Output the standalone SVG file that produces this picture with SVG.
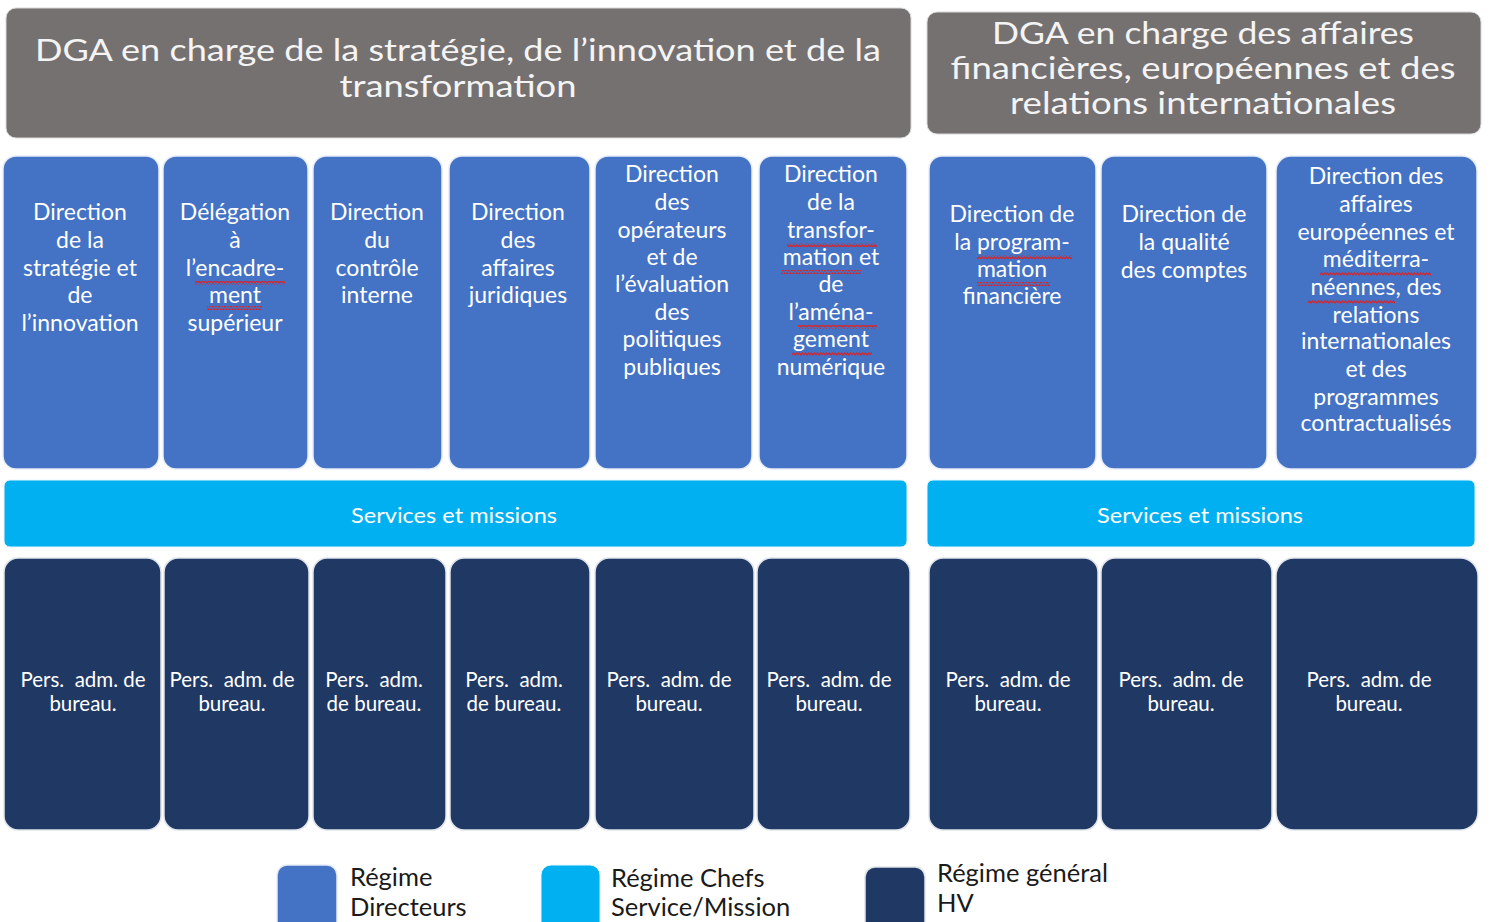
<svg xmlns="http://www.w3.org/2000/svg" width="1498" height="922" viewBox="0 0 1498 922">
<style>
.hdr{fill:#767171;stroke:#d9d9d9;stroke-width:1}
.dir{fill:#4472C4;stroke:#e6ecf7;stroke-width:1.5}
.svc{fill:#00B0F0;stroke:#e6f7fd;stroke-width:1}
.gen{fill:#203864;stroke:#dfe3ea;stroke-width:1.5}
text{font-family:Lato,"Open Sans","DejaVu Sans",sans-serif;text-anchor:middle;fill:#ffffff}
.ht{font-size:30px;fill:#f4f4f4}
.dt{font-size:23px}
.st{font-size:22px}
.pt{font-size:20.5px}
.lg{font-size:25.5px;fill:#1a1a1a;text-anchor:start}
.sq{fill:url(#wave)}
</style>
<defs>
<pattern id="wave" x="0" y="0" width="6" height="4" patternUnits="userSpaceOnUse">
<path d="M0,3 L1.5,1 L3,3 L4.5,1 L6,3" fill="none" stroke="#e02020" stroke-width="1.1"/>
</pattern>
</defs>

<g id="header-left">
<rect class="hdr" x="6" y="8" width="905" height="130" rx="10"/>
<text class="ht" x="458" y="61" textLength="846" lengthAdjust="spacingAndGlyphs">DGA en charge de la stratégie, de l’innovation et de la</text>
<text class="ht" x="458" y="97" textLength="237" lengthAdjust="spacingAndGlyphs">transformation</text>
</g>
<g id="header-right">
<rect class="hdr" x="927" y="12" width="554" height="122" rx="10"/>
<text class="ht" x="1203" y="44" textLength="422" lengthAdjust="spacingAndGlyphs">DGA en charge des affaires</text>
<text class="ht" x="1203" y="79" textLength="505" lengthAdjust="spacingAndGlyphs">financières, européennes et des</text>
<text class="ht" x="1203" y="114" textLength="386" lengthAdjust="spacingAndGlyphs">relations internationales</text>
</g>

<g id="dir1">
<rect class="dir" x="3" y="156" width="156" height="313" rx="13"/>
<text class="dt" x="80"><tspan x="80" y="220">Direction</tspan><tspan x="80" y="248">de la</tspan><tspan x="80" y="276">stratégie et</tspan><tspan x="80" y="303">de</tspan><tspan x="80" y="331">l’innovation</tspan></text>
</g>
<g id="dir2">
<rect class="dir" x="163" y="156" width="145" height="313" rx="13"/>
<text class="dt" x="235"><tspan x="235" y="220">Délégation</tspan><tspan x="235" y="248">à</tspan><tspan x="235" y="276">l’encadre-</tspan><tspan x="235" y="303">ment</tspan><tspan x="235" y="331">supérieur</tspan></text>
<rect class="sq" x="195" y="281" width="90" height="4"/>
<rect class="sq" x="207" y="306" width="55" height="4"/>
</g>
<g id="dir3">
<rect class="dir" x="313" y="156" width="129" height="313" rx="13"/>
<text class="dt" x="377"><tspan x="377" y="220">Direction</tspan><tspan x="377" y="248">du</tspan><tspan x="377" y="276">contrôle</tspan><tspan x="377" y="303">interne</tspan></text>
</g>
<g id="dir4">
<rect class="dir" x="449" y="156" width="141" height="313" rx="13"/>
<text class="dt" x="518"><tspan x="518" y="220">Direction</tspan><tspan x="518" y="248">des</tspan><tspan x="518" y="276">affaires</tspan><tspan x="518" y="303">juridiques</tspan></text>
</g>
<g id="dir5">
<rect class="dir" x="595" y="156" width="157" height="313" rx="13"/>
<text class="dt" x="672"><tspan x="672" y="182">Direction</tspan><tspan x="672" y="210">des</tspan><tspan x="672" y="238">opérateurs</tspan><tspan x="672" y="265">et de</tspan><tspan x="672" y="292">l’évaluation</tspan><tspan x="672" y="320">des</tspan><tspan x="672" y="347">politiques</tspan><tspan x="672" y="375">publiques</tspan></text>
</g>
<g id="dir6">
<rect class="dir" x="759" y="156" width="148" height="313" rx="13"/>
<text class="dt" x="831"><tspan x="831" y="182">Direction</tspan><tspan x="831" y="210">de la</tspan><tspan x="831" y="238">transfor-</tspan><tspan x="831" y="265">mation et</tspan><tspan x="831" y="292">de</tspan><tspan x="831" y="320">l’aména-</tspan><tspan x="831" y="347">gement</tspan><tspan x="831" y="375">numérique</tspan></text>
<rect class="sq" x="787" y="243" width="90" height="4"/>
<rect class="sq" x="781" y="270" width="80" height="4"/>
<rect class="sq" x="798" y="325" width="79" height="4"/>
<rect class="sq" x="792" y="352" width="80" height="4"/>
</g>
<g id="dir7">
<rect class="dir" x="929" y="156" width="167" height="313" rx="13"/>
<text class="dt" x="1012"><tspan x="1012" y="222">Direction de</tspan><tspan x="1012" y="250">la program-</tspan><tspan x="1012" y="277">mation</tspan><tspan x="1012" y="304">financière</tspan></text>
<rect class="sq" x="977" y="255" width="95" height="4"/>
<rect class="sq" x="977" y="282" width="73" height="4"/>
</g>
<g id="dir8">
<rect class="dir" x="1101" y="156" width="166" height="313" rx="13"/>
<text class="dt" x="1184"><tspan x="1184" y="222">Direction de</tspan><tspan x="1184" y="250">la qualité</tspan><tspan x="1184" y="278">des comptes</tspan></text>
</g>
<g id="dir9">
<rect class="dir" x="1276" y="156" width="201" height="313" rx="15"/>
<text class="dt" x="1376"><tspan x="1376" y="184">Direction des</tspan><tspan x="1376" y="212">affaires</tspan><tspan x="1376" y="240">européennes et</tspan><tspan x="1376" y="267">méditerra-</tspan><tspan x="1376" y="295">néennes, des</tspan><tspan x="1376" y="323">relations</tspan><tspan x="1376" y="349">internationales</tspan><tspan x="1376" y="377">et des</tspan><tspan x="1376" y="405">programmes</tspan><tspan x="1376" y="431">contractualisés</tspan></text>
<rect class="sq" x="1320" y="272" width="111" height="4"/>
<rect class="sq" x="1308" y="300" width="87" height="4"/>
</g>

<g id="services-left">
<rect class="svc" x="4" y="480" width="903" height="67" rx="6"/>
<text class="st" x="454" y="523" textLength="206" lengthAdjust="spacingAndGlyphs">Services et missions</text>
</g>
<g id="services-right">
<rect class="svc" x="927" y="480" width="548" height="67" rx="6"/>
<text class="st" x="1200" y="523" textLength="206" lengthAdjust="spacingAndGlyphs">Services et missions</text>
</g>

<g id="gen1"><rect class="gen" x="4" y="558" width="157" height="272" rx="14"/>
<text class="pt" xml:space="preserve"><tspan x="83" y="687">Pers.  adm. de</tspan><tspan x="83" y="711">bureau.</tspan></text></g>
<g id="gen2"><rect class="gen" x="164" y="558" width="145" height="272" rx="14"/>
<text class="pt" xml:space="preserve"><tspan x="232" y="687">Pers.  adm. de</tspan><tspan x="232" y="711">bureau.</tspan></text></g>
<g id="gen3"><rect class="gen" x="313" y="558" width="133" height="272" rx="14"/>
<text class="pt" xml:space="preserve"><tspan x="374" y="687">Pers.  adm.</tspan><tspan x="374" y="711">de bureau.</tspan></text></g>
<g id="gen4"><rect class="gen" x="450" y="558" width="140" height="272" rx="14"/>
<text class="pt" xml:space="preserve"><tspan x="514" y="687">Pers.  adm.</tspan><tspan x="514" y="711">de bureau.</tspan></text></g>
<g id="gen5"><rect class="gen" x="595" y="558" width="159" height="272" rx="14"/>
<text class="pt" xml:space="preserve"><tspan x="669" y="687">Pers.  adm. de</tspan><tspan x="669" y="711">bureau.</tspan></text></g>
<g id="gen6"><rect class="gen" x="757" y="558" width="153" height="272" rx="14"/>
<text class="pt" xml:space="preserve"><tspan x="829" y="687">Pers.  adm. de</tspan><tspan x="829" y="711">bureau.</tspan></text></g>
<g id="gen7"><rect class="gen" x="929" y="558" width="169" height="272" rx="14"/>
<text class="pt" xml:space="preserve"><tspan x="1008" y="687">Pers.  adm. de</tspan><tspan x="1008" y="711">bureau.</tspan></text></g>
<g id="gen8"><rect class="gen" x="1101" y="558" width="171" height="272" rx="14"/>
<text class="pt" xml:space="preserve"><tspan x="1181" y="687">Pers.  adm. de</tspan><tspan x="1181" y="711">bureau.</tspan></text></g>
<g id="gen9"><rect class="gen" x="1276" y="558" width="202" height="272" rx="18"/>
<text class="pt" xml:space="preserve"><tspan x="1369" y="687">Pers.  adm. de</tspan><tspan x="1369" y="711">bureau.</tspan></text></g>

<g id="connectors"></g>

<g id="legend">
<rect class="dir" x="277" y="865" width="60" height="70" rx="10"/>
<text class="lg" x="350" y="886">Régime</text>
<text class="lg" x="350" y="916">Directeurs</text>
<rect class="svc" x="541" y="865" width="59" height="70" rx="10"/>
<text class="lg" x="611" y="887">Régime Chefs</text>
<text class="lg" x="611" y="916">Service/Mission</text>
<rect class="gen" x="865" y="867" width="60" height="70" rx="10"/>
<text class="lg" x="937" y="882">Régime général</text>
<text class="lg" x="937" y="912">HV</text>
</g>
</svg>
